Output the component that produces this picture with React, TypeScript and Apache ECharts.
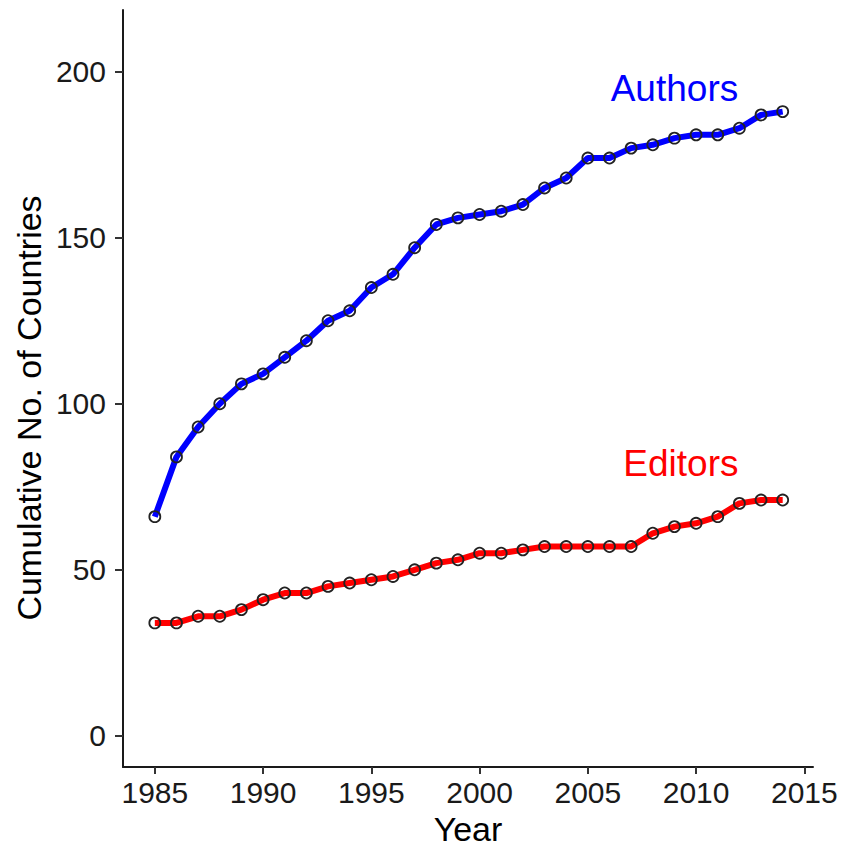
import React, { useEffect, useRef } from "react";
import * as echarts from "echarts";

const years = [1985, 1986, 1987, 1988, 1989, 1990, 1991, 1992, 1993, 1994, 1995, 1996, 1997, 1998, 1999, 2000, 2001, 2002, 2003, 2004, 2005, 2006, 2007, 2008, 2009, 2010, 2011, 2012, 2013, 2014];
const authors = [66, 84, 93, 100, 106, 109, 114, 119, 125, 128, 135, 139, 147, 154, 156, 157, 158, 160, 165, 168, 174, 174, 177, 178, 180, 181, 181, 183, 187, 188];
const editors = [34, 34, 36, 36, 38, 41, 43, 43, 45, 46, 47, 48, 50, 52, 53, 55, 55, 56, 57, 57, 57, 57, 57, 61, 63, 64, 66, 70, 71, 71];
const xTicks = [1985, 1990, 1995, 2000, 2005, 2010, 2015];
const yTicks = [0, 50, 100, 150, 200];
const authorsLabel = { text: "Authors", coord: [2009, 195] };
const editorsLabel = { text: "Editors", coord: [2009.3, 82] };
const yTitle = "Cumulative No. of Countries";
const xTitle = "Year";

const FONT = "'Liberation Sans', Arial, Helvetica, sans-serif";

export default function App() {
  const ref = useRef<HTMLDivElement>(null);
  useEffect(() => {
    if (!ref.current) return;
    const chart = echarts.init(ref.current, null, { renderer: "svg" });
    const mkLabel = (lbl: { text: string; coord: number[] }, color: string) => ({
      symbol: "circle",
      symbolSize: 0,
      silent: true,
      data: [{ coord: lbl.coord, value: lbl.text }],
      label: {
        show: true,
        position: "inside",
        formatter: lbl.text,
        color,
        fontSize: 37,
        fontFamily: FONT,
      },
    });
    const symbolStyle = {
      color: "rgba(255,255,255,0)",
      borderColor: "#222",
      borderWidth: 1.8,
    };
    chart.setOption({
      animation: false,
      backgroundColor: "#fff",
      grid: { left: 123, right: 30, top: 10, bottom: 80, containLabel: false, outerBoundsMode: "none" },
      graphic: [
        {
          type: "text",
          x: 29,
          y: 408,
          rotation: Math.PI / 2,
          style: {
            text: yTitle,
            fontSize: 34,
            fill: "#000",
            fontFamily: FONT,
            align: "center",
            verticalAlign: "middle",
          },
        },
      ],
      xAxis: {
        type: "value",
        min: 1983.53,
        max: 2015.4,
        name: xTitle,
        nameLocation: "middle",
        nameGap: 47,
        nameTextStyle: { fontSize: 34, lineHeight: 28, color: "#000", fontFamily: FONT },
        splitLine: { show: false },
        axisLine: { show: true, onZero: false, lineStyle: { color: "#1a1a1a", width: 2 } },
        axisTick: { show: true, length: 7, lineStyle: { color: "#333", width: 2 }, customValues: xTicks },
        axisLabel: {
          customValues: xTicks,
          formatter: (v: number) => String(v),
          fontSize: 30,
          color: "#1a1a1a",
          fontFamily: FONT,
          margin: 10,
        },
      },
      yAxis: {
        type: "value",
        min: -9.4,
        max: 218.6,
        splitLine: { show: false },
        axisLine: { show: true, onZero: false, lineStyle: { color: "#1a1a1a", width: 2 } },
        axisTick: { show: true, length: 8, lineStyle: { color: "#333", width: 2 }, customValues: yTicks },
        axisLabel: {
          customValues: yTicks,
          formatter: (v: number) => String(v),
          fontSize: 30,
          color: "#1a1a1a",
          fontFamily: FONT,
          margin: 17,
        },
      },
      series: [
        {
          name: "Authors",
          type: "line",
          data: years.map((y, i) => [y, authors[i]]),
          symbol: "circle",
          symbolSize: 11,
          lineStyle: { color: "#0000FF", width: 6 },
          itemStyle: symbolStyle,
          markPoint: mkLabel(authorsLabel, "#0000FF"),
        },
        {
          name: "Editors",
          type: "line",
          data: years.map((y, i) => [y, editors[i]]),
          symbol: "circle",
          symbolSize: 11,
          lineStyle: { color: "#FF0000", width: 6 },
          itemStyle: symbolStyle,
          markPoint: mkLabel(editorsLabel, "#FF0000"),
        },
      ],
    });
    return () => chart.dispose();
  }, []);
  return (
    <div
      ref={ref}
      style={{ position: "fixed", left: 0, top: 0, width: 843, height: 847, background: "#fff" }}
    />
  );
}
